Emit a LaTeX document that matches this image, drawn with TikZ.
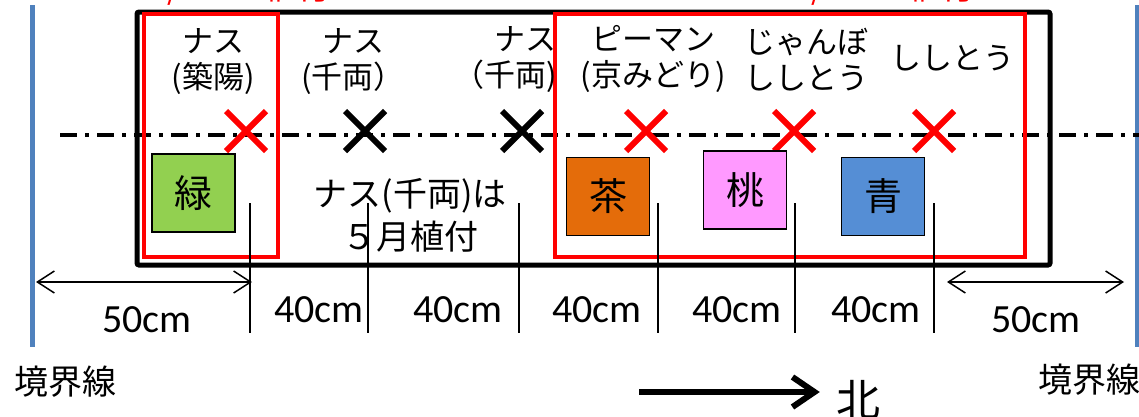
\documentclass[tikz,border=0pt]{standalone}
\usepackage{fontspec}
\setmainfont{Noto Sans CJK JP}
\newfontfamily\latinfont{Carlito}
\usetikzlibrary{arrows.meta,calc}
\definecolor{bline}{HTML}{4F81BD}
\definecolor{cgreen}{HTML}{92D050}
\definecolor{corange}{HTML}{E46C0A}
\definecolor{cpink}{HTML}{FF99FF}
\definecolor{cblue}{HTML}{558ED5}
\definecolor{cred}{HTML}{FF0000}
\tikzset{
  lbl/.style={inner sep=0pt, align=center, font=\fontsize{31}{36}\selectfont},
  mid/.style={inner sep=0pt, align=center, font=\fontsize{34}{43}\selectfont},
  dim/.style={inner sep=0pt, font=\latinfont\fontsize{40}{44}\selectfont},
  colbox/.style={draw=black, line width=1.5pt, minimum width=83pt, minimum height=78pt, inner sep=0pt, font=\fontsize{38}{40}\selectfont},
  crossr/.style={draw=cred, line width=6pt},
  crossk/.style={draw=black, line width=6pt},
  tick/.style={draw=black, line width=1.5pt},
  dbl/.style={draw=black, line width=1.5pt, {Straight Barb[length=17pt,width=22pt]}-{Straight Barb[length=17pt,width=22pt]}},
  boundary/.style={draw=bline, line width=5pt},
  bdr/.style={inner sep=0pt, font=\fontsize{34}{38}\selectfont},
  hdr/.style={inner sep=0pt, text=cred, font=\fontsize{33}{36}\selectfont},
}
\begin{document}
\begin{tikzpicture}[x=1pt,y=-1pt]
\useasboundingbox (0,0) rectangle (1139,416);
\clip (0,0) rectangle (1139,416);
\fill[white] (0,0) rectangle (1139,416);

% boundary lines
\draw[boundary] (32,5) -- (32,347);
\draw[boundary] (1137,5) -- (1137,347);

% centre dash-dot line
\coordinate (dl) at (60,135);
\coordinate (dr) at (1145,135);
\draw[line width=4pt, dash pattern=on 17pt off 8pt on 4pt off 8pt] (dl) -- (dr);

% bed outline
\draw[line width=5pt, rounded corners=2pt] (137,12) rectangle (1050,265);
% red groups
\draw[cred, line width=4pt] (144,14) rectangle (278,257);
\draw[cred, line width=4pt] (555,14) rectangle (1025,257);

% partially visible red header texts
\node[hdr] (h1) at (240,-11) {4/23-28植付};
\node[hdr] (h2) at (884,-11) {4/23-28植付};

% labels
\node[lbl] (l1) at (213,62) {ナス\\(築陽)};
\node[lbl] (l2) at (353,62) {ナス\\(千両）};
\node[lbl, align=right, anchor=east] (l3) at (557,60) {ナス\\（千両)};
\node[lbl] (l4) at (653,59) {ピーマン\\(京みどり)};
\node[lbl] (l5) at (806,60) {じゃんぼ\\ししとう};
\node[lbl] (l6) at (952,58) {ししとう};

% crosses
\foreach \n/\x/\s in {c1/246/crossr, c2/365/crossk, c3/522/crossk, c4/646/crossr, c5/794/crossr, c6/934/crossr}{
  \coordinate (\n) at (\x,131);
  \draw[\s] ($(\n)+(-20,-20)$) -- ($(\n)+(20,20)$);
  \draw[\s] ($(\n)+(-20,20)$) -- ($(\n)+(20,-20)$);
}

% colour boxes
\node[colbox, fill=cgreen] (b1) at (193.5,193) {緑};
\node[colbox, fill=corange] (b2) at (608,196.5) {茶};
\node[colbox, fill=cpink] (b3) at (745,190) {桃};
\node[colbox, fill=cblue] (b4) at (883,196.5) {青};

% note
\node[mid] (note) at (410,215) {ナス(千両)は\\５月植付};

% ticks
\foreach \n/\x in {t1/250, t2/368, t3/519, t4/658, t5/795, t6/934}{
  \coordinate (\n a) at (\x,203);
  \coordinate (\n b) at (\x,333);
  \draw[tick] (\n a) -- (\n b);
}

% dimension arrows
\coordinate (al) at (36,282);
\coordinate (ar) at (252,282);
\draw[dbl] (al) -- (ar);
\coordinate (bl) at (947,282);
\coordinate (br) at (1124,282);
\draw[dbl] (bl) -- (br);

% dimension labels
\node[dim] (d1) at (147,320) {50cm};
\node[dim] (d2) at (319,310) {40cm};
\node[dim] (d3) at (458,310) {40cm};
\node[dim] (d4) at (597,310) {40cm};
\node[dim] (d5) at (737,310) {40cm};
\node[dim] (d6) at (876,310) {40cm};
\node[dim] (d7) at (1036,320) {50cm};

% boundary labels
\node[bdr] (bl1) at (65,382) {境界線};
\node[bdr, anchor=west] (bl2) at (1038,380) {境界線};

% north arrow
\node[inner sep=0pt, font=\fontsize{44}{46}\selectfont] (north) at (858,400) {北};
\coordinate (ns) at (639,392);
\coordinate (ne) at ($(north.west |- ns)+(-16,0)$);
\draw[line width=6pt, -{Straight Barb[length=22pt,width=30pt]}] (ns) -- (ne);
\end{tikzpicture}
\end{document}
